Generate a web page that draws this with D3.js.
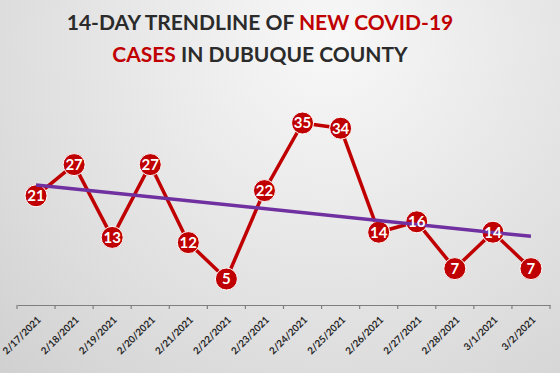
<!DOCTYPE html>
<html><head><meta charset="utf-8">
<script src="https://cdn.jsdelivr.net/npm/d3@7"></script>
<style>
html,body{margin:0;padding:0;background:#ddd;}
svg{display:block;}
</style></head>
<body>
<svg id="chart" width="560" height="373"></svg>
<script>
const dates = ["2/17/2021","2/18/2021","2/19/2021","2/20/2021","2/21/2021","2/22/2021","2/23/2021","2/24/2021","2/25/2021","2/26/2021","2/27/2021","2/28/2021","3/1/2021","3/2/2021"];
const newCases = [21,27,13,27,12,5,22,35,34,14,16,7,14,7];
const titleLine1 = [["14-DAY TRENDLINE OF ","#2b2b2b"],["NEW COVID-19","#c00000"]];
const titleLine2 = [["CASES","#c00000"],[" IN DUBUQUE COUNTY","#2b2b2b"]];

const W = 560, H = 373;
const svg = d3.select("#chart");
const defs = svg.append("defs");
const rg = defs.append("radialGradient").attr("id","bg")
  .attr("gradientUnits","userSpaceOnUse").attr("cx",330).attr("cy",40).attr("r",580);
rg.append("stop").attr("offset","0%").attr("stop-color","#f8f8f8");
rg.append("stop").attr("offset","55%").attr("stop-color","#dedede");
rg.append("stop").attr("offset","100%").attr("stop-color","#c6c6c6");
svg.append("rect").attr("width",W).attr("height",H).attr("fill","url(#bg)");

// title
const fontT = "Lato, 'Open Sans', sans-serif";
[[titleLine1,30],[titleLine2,62]].forEach(([parts,y])=>{
  const t = svg.append("text").attr("x",260).attr("y",y).attr("text-anchor","middle")
    .attr("font-family",fontT).attr("font-weight","bold").attr("font-size",21);
  parts.forEach(([s,c])=>t.append("tspan").attr("fill",c).text(s));
});

const x = d3.scaleBand().domain(dates).range([17,550]);
const y = d3.scaleLinear().domain([0,40]).range([305,97]);

// axis
const ax = svg.append("g").attr("transform","translate(0,305)")
  .call(d3.axisBottom(x).tickSize(0).tickFormat(""));
ax.select(".domain").attr("stroke","#7f7f7f").attr("stroke-width",1.2);
const bounds = dates.map(d=>x(d)).concat([x.range()[1]]);
svg.append("g").selectAll("line").data(bounds).join("line")
  .attr("x1",d=>d).attr("x2",d=>d).attr("y1",305).attr("y2",309)
  .attr("stroke","#7f7f7f").attr("stroke-width",1.2);
svg.append("g").selectAll("text").data(dates).join("text")
  .attr("transform",d=>`translate(${x(d)+x.bandwidth()/2+3},${318}) rotate(-45)`)
  .attr("text-anchor","end").attr("dy","0.35em")
  .attr("font-family",fontT).attr("font-weight","bold").attr("font-size",9.8)
  .attr("fill","#262626").text(d=>d);

const cx = d => x(d)+x.bandwidth()/2;

// series line
svg.append("path").datum(newCases)
  .attr("d", d3.line().x((v,i)=>cx(dates[i])).y(v=>y(v)))
  .attr("fill","none").attr("stroke","#c00000").attr("stroke-width",3.5)
  .attr("stroke-linejoin","round");

// linear trendline (least squares)
const n = newCases.length;
const xs = d3.range(1,n+1);
const mx = d3.mean(xs), my = d3.mean(newCases);
const slope = d3.sum(xs,(xi,i)=>(xi-mx)*(newCases[i]-my))/d3.sum(xs,xi=>(xi-mx)**2);
const icpt = my - slope*mx;

// markers
const g = svg.append("g").selectAll("g").data(newCases).join("g")
  .attr("transform",(v,i)=>`translate(${cx(dates[i])},${y(v)})`);
g.append("circle").attr("r",11).attr("fill","#c00000").attr("stroke","#ffffff").attr("stroke-width",1);

svg.append("line")
  .attr("x1",cx(dates[0])).attr("y1",y(icpt+slope*1))
  .attr("x2",cx(dates[n-1])).attr("y2",y(icpt+slope*n))
  .attr("stroke","#7030a0").attr("stroke-width",3.5);

svg.append("g").selectAll("text").data(newCases).join("text")
  .attr("x",(v,i)=>cx(dates[i])).attr("y",v=>y(v)).attr("dy","0.36em")
  .attr("text-anchor","middle").attr("font-family",fontT).attr("font-weight","bold")
  .attr("font-size",15).attr("fill","#ffffff").text(v=>v);
</script>
</body></html>
